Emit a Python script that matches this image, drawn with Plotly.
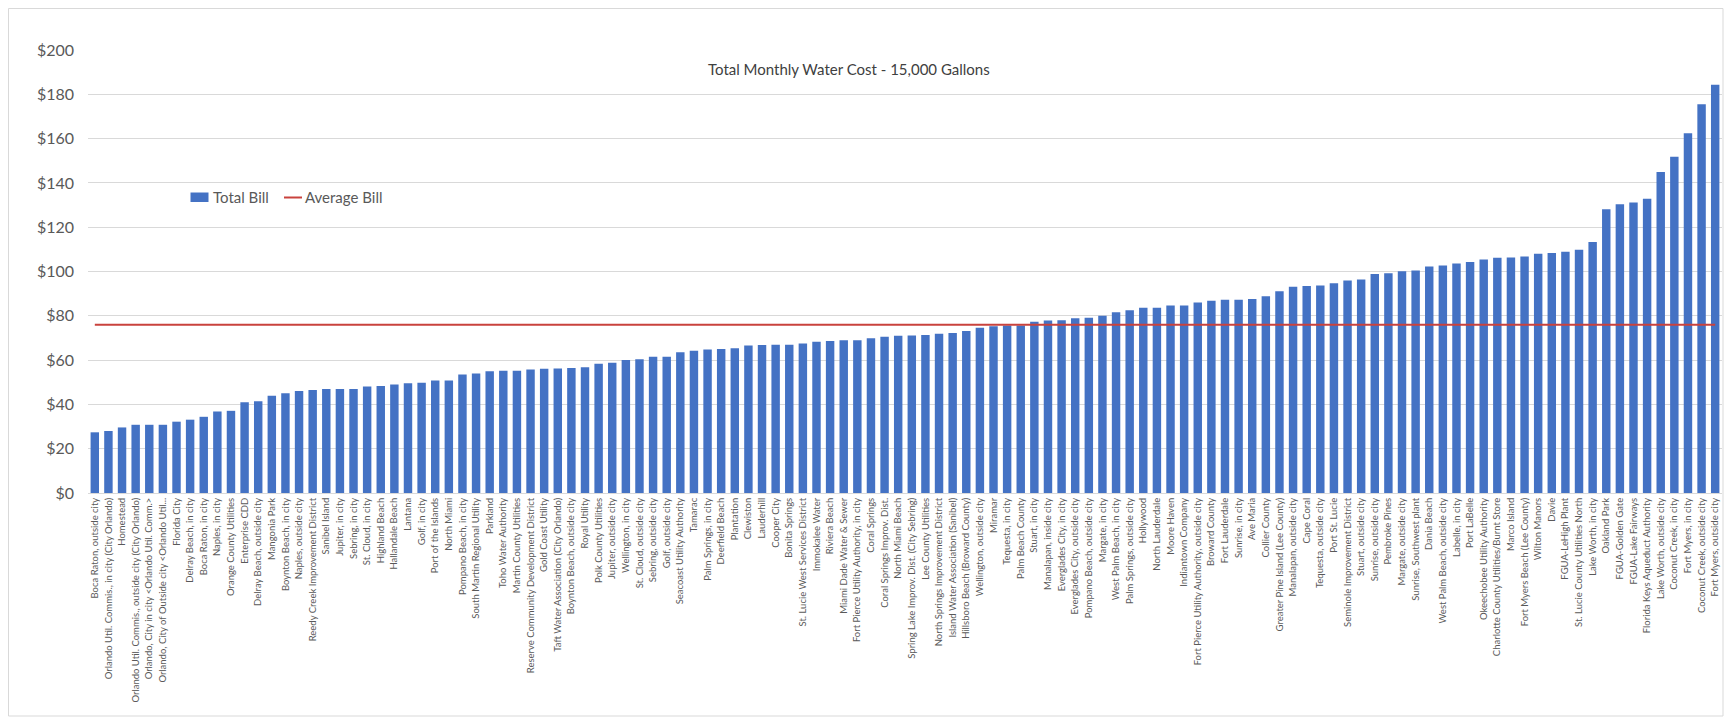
import plotly.graph_objects as go

categories = [
    "Boca Raton, outside city", "Orlando Util. Commis., in city (City Orlando)", "Homestead",
    "Orlando Util. Commis., outside city (City Orlando)", "Orlando, City in city <Orlando Util. Comm.>",
    "Orlando, City of Outside city <Orlando Util...", "Florida City", "Delray Beach, in city",
    "Boca Raton, in city", "Naples, in city", "Orange County Utilities", "Enterprise CDD",
    "Delray Beach, outside city", "Mangonia Park", "Boynton Beach, in city", "Naples, outside city",
    "Reedy Creek Improvement District", "Sanibel Island", "Jupiter, in city", "Sebring, in city",
    "St. Cloud, in city", "Highland Beach", "Hallandale Beach", "Lantana",
    "Golf, in city", "Port of the Islands", "North Miami", "Pompano Beach, in city",
    "South Martin Regional Utility", "Parkland", "Toho Water Authority", "Martin County Utilities",
    "Reserve Community Development District", "Gold Coast Utility", "Taft Water Association (City Orlando)",
    "Boynton Beach, outside city", "Royal Utility", "Polk County Utilities", "Jupiter, outside city",
    "Wellington, in city", "St. Cloud, outside city", "Sebring, outside city", "Golf, outside city",
    "Seacoast Utility Authority", "Tamarac", "Palm Springs, in city", "Deerfield Beach", "Plantation",
    "Clewiston", "Lauderhill", "Cooper City", "Bonita Springs", "St. Lucie West Services District",
    "Immokalee Water", "Riviera Beach", "Miami Dade Water & Sewer",
    "Fort Pierce Utility Authority, in city", "Coral Springs", "Coral Springs Improv. Dist.",
    "North Miami Beach", "Spring Lake Improv. Dist. (City Sebring)", "Lee County Utilities",
    "North Springs Improvement District", "Island Water Association (Sanibel)",
    "Hillsboro Beach (Broward County)", "Wellington, outside city", "Miramar", "Tequesta, in city",
    "Palm Beach County", "Stuart, in city", "Manalapan, inside city", "Everglades City, in city",
    "Everglades City, outside city", "Pompano Beach, outside city", "Margate, in city",
    "West Palm Beach, in city", "Palm Springs, outside city", "Hollywood", "North Lauderdale",
    "Moore Haven", "Indiantown Company", "Fort Pierce Utility Authority, outside city",
    "Broward County", "Fort Lauderdale", "Sunrise, in city", "Ave Maria", "Collier County",
    "Greater Pine Island (Lee County)", "Manalapan, outside city", "Cape Coral",
    "Tequesta, outside city", "Port St. Lucie", "Seminole Improvement District",
    "Stuart, outside city", "Sunrise, outside city", "Pembroke Pines", "Margate, outside city",
    "Sunrise, Southwest plant", "Dania Beach", "West Palm Beach, outside city", "Labelle, in city",
    "Port LaBelle", "Okeechobee Utility Authority", "Charlotte County Utilities/Burnt Store",
    "Marco Island", "Fort Myers Beach (Lee County)", "Wilton Manors", "Davie", "FGUA-LeHigh Plant",
    "St. Lucie County Utilities North", "Lake Worth, in city", "Oakland Park", "FGUA-Golden Gate",
    "FGUA-Lake Fairways", "Florida Keys Aqueduct Authority", "Lake Worth, outside city",
    "Coconut Creek, in city", "Fort Myers, in city", "Coconut Creek, outside city",
    "Fort Myers, outside city",
]

total_bill = [
    27.4, 28.0, 29.6, 30.8, 30.8, 30.8, 32.2, 33.1, 34.4, 36.8, 37.1, 41.0,
    41.4, 43.9, 45.0, 46.0, 46.5, 46.9, 47.0, 47.0, 48.1, 48.3, 49.0, 49.6,
    49.8, 50.8, 50.8, 53.5, 54.0, 55.0, 55.2, 55.2, 55.8, 56.1, 56.2, 56.4,
    56.8, 58.3, 58.8, 60.1, 60.4, 61.5, 61.5, 63.6, 64.2, 64.8, 65.0, 65.3,
    66.6, 66.8, 66.9, 66.9, 67.5, 68.3, 68.6, 69.0, 69.0, 69.9, 70.5, 71.0,
    71.1, 71.3, 71.9, 72.2, 73.1, 74.6, 75.3, 75.6, 75.6, 77.3, 77.9, 78.0,
    78.9, 79.1, 80.0, 81.6, 82.5, 83.6, 83.6, 84.7, 84.7, 86.0, 86.8, 87.2,
    87.3, 87.6, 88.8, 91.1, 93.1, 93.4, 93.7, 94.7, 95.9, 96.4, 98.9, 99.2,
    100.1, 100.4, 102.3, 102.7, 103.6, 104.3, 105.4, 106.2, 106.3, 106.8, 108.0, 108.4,
    108.9, 109.8, 113.3, 128.1, 130.4, 131.2, 132.9, 144.9, 151.8, 162.4, 175.5, 184.3,
]

average_bill_value = 76.0
average_bill = [average_bill_value] * len(categories)

y_ticks = [0, 20, 40, 60, 80, 100, 120, 140, 160, 180, 200]
y_tick_labels = ["$" + str(v) for v in y_ticks]

title_text = "Total Monthly Water Cost - 15,000 Gallons"
legend_names = ["Total Bill", "Average Bill"]

BAR_COLOR = "#4472C4"
LINE_COLOR = "#C9423D"
FONT = "Lato, 'Open Sans', sans-serif"

# figure sits inside the page body (8px default margin): plot area spans window x 88..1722, y 50..493
PL, PT, PW, PH = 88, 50, 1634, 443


def px(x):
    return (x - PL) / PW


def py(y):
    return (PT + PH - y) / PH


fig = go.Figure()
fig.add_trace(go.Bar(
    x=categories, y=total_bill, name=legend_names[0],
    marker=dict(color=BAR_COLOR, line=dict(width=0)),
))
fig.add_trace(go.Scatter(
    x=categories, y=average_bill, name=legend_names[1], mode="lines",
    line=dict(color=LINE_COLOR, width=2),
))

fig.update_layout(
    width=1716, height=709,
    margin=dict(l=80, r=2, t=42, b=224, autoexpand=False),
    paper_bgcolor="white", plot_bgcolor="white",
    bargap=0.38,
    font=dict(family=FONT, color="#595959"),
    showlegend=False,
    annotations=[
        dict(text=title_text, xref="paper", yref="paper", x=px(849), y=py(69),
             xanchor="center", yanchor="middle", showarrow=False,
             font=dict(size=15, color="#404040", family=FONT)),
        dict(text=legend_names[0], xref="paper", yref="paper", x=px(211), y=py(197),
             xanchor="left", yanchor="middle", showarrow=False,
             font=dict(size=15, color="#595959", family=FONT)),
        dict(text=legend_names[1], xref="paper", yref="paper", x=px(303), y=py(197),
             xanchor="left", yanchor="middle", showarrow=False,
             font=dict(size=15, color="#595959", family=FONT)),
    ],
    shapes=[
        dict(type="rect", xref="paper", yref="paper",
             x0=px(8.5), x1=px(1723), y0=py(716), y1=py(8.5),
             line=dict(color="#d9d9d9", width=1), fillcolor="rgba(0,0,0,0)", layer="below"),
        dict(type="rect", xref="paper", yref="paper",
             x0=px(190.5), x1=px(208.5), y0=py(202), y1=py(192.5),
             line=dict(width=0), fillcolor=BAR_COLOR),
        dict(type="line", xref="paper", yref="paper",
             x0=px(284), x1=px(302), y0=py(197.5), y1=py(197.5),
             line=dict(color=LINE_COLOR, width=2)),
    ],
)

fig.update_xaxes(
    type="category", tickangle=-90, tickfont=dict(size=9.5, color="#595959", family=FONT),
    showgrid=False, ticks="", showline=True, linecolor="#d9d9d9", linewidth=1,
    automargin=False, range=[-0.5, len(categories) - 0.5],
)
fig.update_yaxes(
    range=[0, 200], tickvals=y_ticks, ticktext=y_tick_labels,
    tickfont=dict(size=16, color="#595959", family=FONT),
    showgrid=True, gridcolor="#d9d9d9", gridwidth=1, zeroline=False,
    showline=False, ticks="", automargin=False, ticklabelstandoff=13,
)

fig.write_html("out.html")
